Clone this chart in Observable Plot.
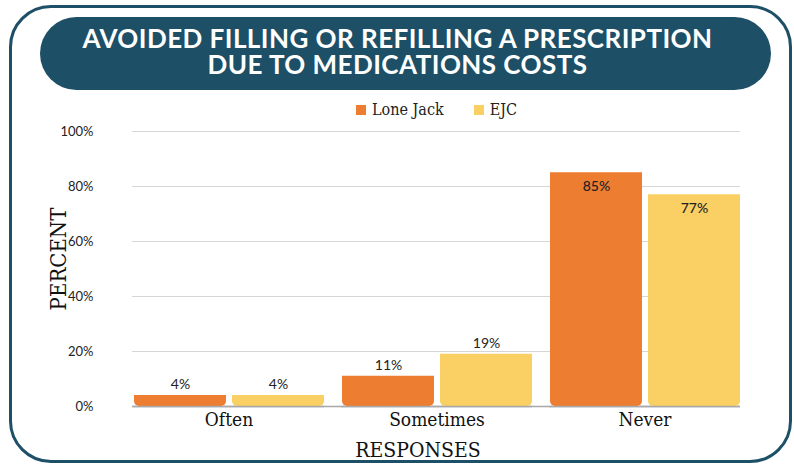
<!DOCTYPE html>
<html>
<head>
<meta charset="utf-8">
<script src="https://cdn.jsdelivr.net/npm/d3@7"></script>
<script src="https://cdn.jsdelivr.net/npm/@observablehq/plot@0.6"></script>
<style>
  html, body { margin: 0; padding: 0; background: #fff; }
  #wrap { position: relative; width: 794px; height: 466px; overflow: hidden; background: #fff; }
  #frame { position: absolute; left: 9px; top: 5px; width: 777px; height: 452px; border: 3.5px solid #1d4f67; border-radius: 42px; }
  #banner { position: absolute; left: 40px; top: 17px; width: 731px; height: 73px; background: #1d4f67; border-radius: 37px; }
  .tl { position: absolute; left: -8px; width: 731px; text-align: center; color: #fff; font-family: Lato, sans-serif; font-weight: 700; font-size: 26px; line-height: 26px; letter-spacing: 0.45px; white-space: nowrap; }
  #legend { position: absolute; top: 100px; left: 356px; font-family: "DejaVu Serif Condensed", "Liberation Serif", serif; font-size: 16px; color: #222; white-space: nowrap; }
  #legend span.sw { display: inline-block; width: 10px; height: 10px; margin-right: 6px; vertical-align: 0px; }
  #legend span.it { margin-right: 30px; }
  #ylab { position: absolute; left: 58px; top: 259px; transform: translate(-50%, -50%) rotate(-90deg); font-family: "DejaVu Serif Condensed", "Liberation Serif", serif; font-size: 22px; color: #111; white-space: nowrap; }
  #xlab { position: absolute; left: 418px; top: 450px; transform: translate(-50%, -50%); font-family: "DejaVu Serif Condensed", "Liberation Serif", serif; font-size: 21px; color: #111; white-space: nowrap; }
  .chart { position: absolute; left: 0; top: 95px; }
</style>
</head>
<body>
<div id="wrap">
  <div id="frame"></div>
  <div id="banner">
    <div class="tl" style="top:8px">AVOIDED FILLING OR REFILLING A PRESCRIPTION</div>
    <div class="tl" style="top:34px">DUE TO MEDICATIONS COSTS</div>
  </div>
  <div id="legend"></div>
  <div id="bg" class="chart"></div>
  <div id="fg" class="chart"></div>
  <div id="ylab">PERCENT</div>
  <div id="xlab">RESPONSES</div>
</div>
<script>
const categories = ["Often", "Sometimes", "Never"];
const seriesNames = ["Lone Jack", "EJC"];
const loneJack = [4, 11, 85];
const ejc = [4, 19, 77];
const yTicks = [0, 20, 40, 60, 80, 100];
const colors = ["#ED7D31", "#FAD064"];

const data = [];
categories.forEach((c, i) => {
  data.push({category: c, series: seriesNames[0], value: loneJack[i]});
  data.push({category: c, series: seriesNames[1], value: ejc[i]});
});

const legend = document.getElementById("legend");
seriesNames.forEach((s, i) => {
  const it = document.createElement("span");
  it.className = "it";
  it.innerHTML = `<span class="sw" style="background:${colors[i]}"></span>${s}`;
  legend.appendChild(it);
});

const inside = d => d.value >= 50;

const ver = (Plot.version || "0.6.0").split(".").map(Number);
const topRound = (ver[0] > 0 || ver[1] > 6 || (ver[1] === 6 && ver[2] >= 16)) ? {ry2: 5} : {rx: 5};

const frameOpts = {
  width: 794,
  height: 371,
  marginLeft: 132,
  marginRight: 54,
  marginTop: 36,
  marginBottom: 60
};

// Background: continuous gridlines, y axis and baseline across the whole plot
const bg = Plot.plot({
  ...frameOpts,
  y: {domain: [0, 100], label: null},
  marks: [
    Plot.ruleY(yTicks.filter(t => t > 0), {stroke: "#d6d6d6", strokeWidth: 1.2}),
    Plot.axisY(yTicks, {tickSize: 0, tickPadding: 39, tickFormat: d => d + "%", fontSize: 13, fontFamily: "Lato, sans-serif", fill: "#222", label: null}),
    Plot.ruleY([0], {stroke: "#a8a8a8", strokeWidth: 1.5})
  ]
});
document.getElementById("bg").appendChild(bg);

// Foreground: grouped bars, labels and category axis
const fg = Plot.plot({
  ...frameOpts,
  style: {background: "transparent"},
  fx: {domain: categories, paddingInner: 0.082, paddingOuter: 0, label: null},
  x: {domain: seriesNames, paddingInner: 0.065, paddingOuter: 0, axis: null},
  y: {domain: [0, 100], axis: null, label: null},
  color: {domain: seriesNames, range: colors},
  marks: [
    Plot.barY(data, {fx: "category", x: "series", y: "value", fill: "series", ...topRound}),
    Plot.ruleY([0], {stroke: "#a8a8a8", strokeWidth: 1.5}),
    Plot.text(data.filter(d => !inside(d)), {fx: "category", x: "series", y: "value", text: d => d.value + "%", dy: -11, fontSize: 14, fontFamily: "Lato, sans-serif", fill: "#222"}),
    Plot.text(data.filter(inside), {fx: "category", x: "series", y: "value", text: d => d.value + "%", dy: 14, fontSize: 14, fontFamily: "Lato, sans-serif", fontWeight: 500, fill: "#222"}),
    Plot.axisFx({anchor: "bottom", tickSize: 0, tickPadding: 6, fontSize: 19, fontFamily: "'DejaVu Serif Condensed', 'Liberation Serif', serif", fill: "#111", label: null})
  ]
});
document.getElementById("fg").appendChild(fg);
</script>
</body>
</html>
